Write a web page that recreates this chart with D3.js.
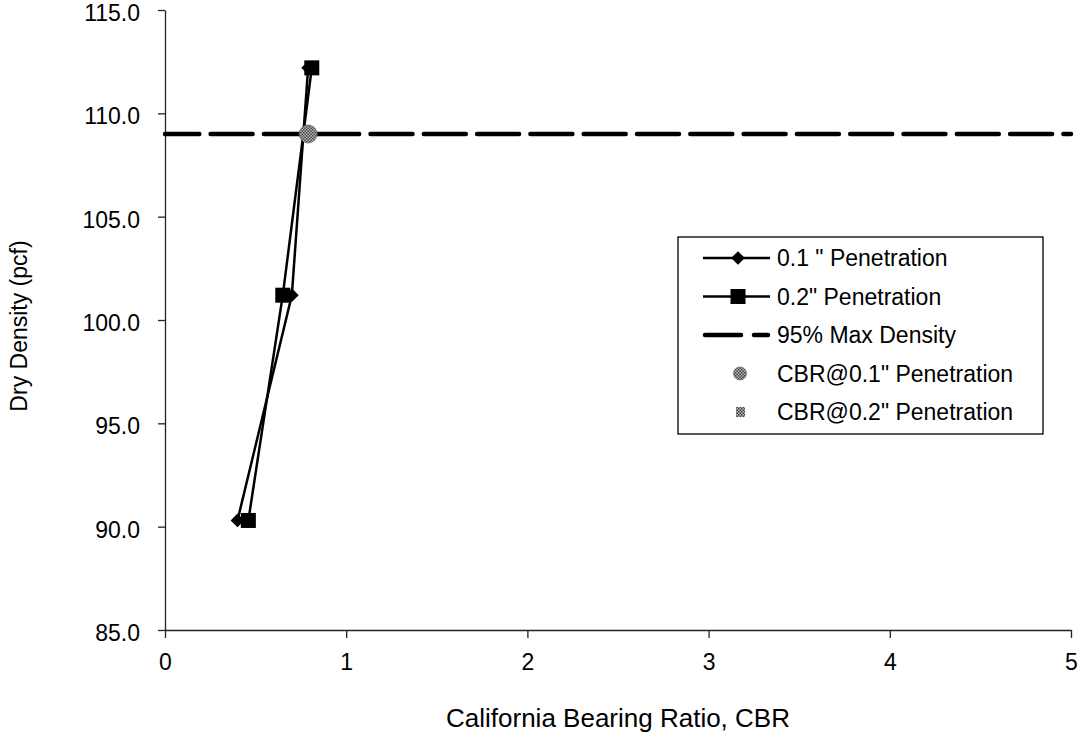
<!DOCTYPE html>
<html><head><meta charset="utf-8">
<script src="https://cdn.jsdelivr.net/npm/d3@7"></script>
<style>
body{margin:0;background:#fff}
svg{display:block}
text{font-family:Arial,"Liberation Sans",sans-serif;fill:#000}
</style>
</head><body>
<svg id="c" width="1082" height="740"></svg>
<script>
// ---- data ----
const cbr01 = [0.40, 0.70, 0.79];
const density01 = [90.3, 101.2, 112.2];
const cbr02 = [0.46, 0.65, 0.81];
const density02 = [90.3, 101.2, 112.2];
const maxDensity95 = 109.0;
const cbrAt01 = [0.79];
const densityAt01 = [109.0];
const cbrAt02 = [0.79];
const densityAt02 = [109.0];
const xTicks = [0, 1, 2, 3, 4, 5];
const yTicks = [85, 90, 95, 100, 105, 110, 115];
const legendLabels = ['0.1 " Penetration', '0.2" Penetration', '95% Max Density', 'CBR@0.1" Penetration', 'CBR@0.2" Penetration'];
const xTitle = 'California Bearing Ratio, CBR';
const yTitle = 'Dry Density (pcf)';

const svg = d3.select('#c');
const x = d3.scaleLinear().domain([0, 5]).range([165, 1071]);
const y = d3.scaleLinear().domain([85, 115]).range([630, 10]);

const defs = svg.append('defs');
const pat = defs.append('pattern').attr('id', 'dots').attr('width', 3).attr('height', 3).attr('patternUnits', 'userSpaceOnUse');
pat.append('rect').attr('width', 3).attr('height', 3).attr('fill', '#b5b5b5');
pat.append('rect').attr('width', 1.5).attr('height', 1.5).attr('fill', '#454545');
pat.append('rect').attr('x', 1.5).attr('y', 1.5).attr('width', 1.5).attr('height', 1.5).attr('fill', '#454545');

// axes
const yAxis = svg.append('g').attr('transform', `translate(${x(0)},0)`)
  .call(d3.axisLeft(y).tickValues(yTicks).tickSize(7).tickSizeOuter(0).tickPadding(18).tickFormat(d3.format('.1f')));
const xAxis = svg.append('g').attr('transform', `translate(0,${y(85)})`)
  .call(d3.axisBottom(x).tickValues(xTicks).tickSize(8).tickSizeOuter(0).tickPadding(16).tickFormat(d3.format('d')));
[yAxis, xAxis].forEach(a => {
  a.selectAll('path,line').attr('stroke', '#222').attr('stroke-width', 1.3);
  a.selectAll('text').attr('font-size', 23).attr('fill', '#000').style('font-family', 'Arial, "Liberation Sans", sans-serif');
});
yAxis.selectAll('text').attr('y', 3);

// titles
svg.append('text').attr('x', 618).attr('y', 727).attr('text-anchor', 'middle').attr('font-size', 26).text(xTitle);
svg.append('text').attr('transform', 'translate(27,326) rotate(-90)').attr('text-anchor', 'middle').attr('font-size', 23).text(yTitle);

// 95% line
svg.append('line').attr('x1', x(0)).attr('x2', x(5)).attr('y1', y(maxDensity95)).attr('y2', y(maxDensity95))
  .attr('stroke', '#000').attr('stroke-width', 4.5).attr('stroke-linecap', 'round')
  .attr('stroke-dasharray', '42 11.3').attr('stroke-dashoffset', 7.7);

// series
const line = d3.line().x(d => x(d[0])).y(d => y(d[1]));
const s01 = cbr01.map((c, i) => [c, density01[i]]);
const s02 = cbr02.map((c, i) => [c, density02[i]]);
[s01, s02].forEach(s => svg.append('path').attr('d', line(s)).attr('fill', 'none').attr('stroke', '#000').attr('stroke-width', 2.5));

const diamond = d3.symbol().type(d3.symbolDiamond2).size(120);
svg.selectAll('.dia').data(s01).join('path').attr('class', 'dia')
  .attr('transform', d => `translate(${x(d[0])},${y(d[1])})`).attr('d', diamond).attr('fill', '#000');
svg.selectAll('.sq').data(s02).join('rect').attr('class', 'sq')
  .attr('x', d => x(d[0]) - 7.5).attr('y', d => y(d[1]) - 7.5).attr('width', 15).attr('height', 15).attr('fill', '#000');

// CBR points
svg.selectAll('.c2').data(cbrAt02.map((c, i) => [c, densityAt02[i]])).join('rect').attr('class', 'c2')
  .attr('x', d => x(d[0]) - 4.5).attr('y', d => y(d[1]) - 4.5).attr('width', 9).attr('height', 9).attr('fill', 'url(#dots)');
svg.selectAll('.c1').data(cbrAt01.map((c, i) => [c, densityAt01[i]])).join('circle').attr('class', 'c1')
  .attr('cx', d => x(d[0])).attr('cy', d => y(d[1])).attr('r', 9).attr('fill', 'url(#dots)').attr('stroke', '#666').attr('stroke-width', 0.8);

// legend
const lg = svg.append('g');
lg.append('rect').attr('x', 678).attr('y', 237).attr('width', 365).attr('height', 197).attr('fill', '#fff').attr('stroke', '#000').attr('stroke-width', 1.3);
const ly = i => 258 + i * 38.5;
legendLabels.forEach((t, i) => {
  lg.append('text').attr('x', 777).attr('y', ly(i) + 8.3).attr('font-size', 23).text(t);
});
lg.append('line').attr('x1', 703).attr('x2', 770).attr('y1', ly(0)).attr('y2', ly(0)).attr('stroke', '#000').attr('stroke-width', 2.5);
lg.append('path').attr('transform', `translate(738,${ly(0)})`).attr('d', diamond).attr('fill', '#000');
lg.append('line').attr('x1', 703).attr('x2', 770).attr('y1', ly(1)).attr('y2', ly(1)).attr('stroke', '#000').attr('stroke-width', 2.5);
lg.append('rect').attr('x', 730.5).attr('y', ly(1) - 7.5).attr('width', 15).attr('height', 15).attr('fill', '#000');
lg.append('line').attr('x1', 705).attr('x2', 768).attr('y1', ly(2)).attr('y2', ly(2)).attr('stroke', '#000').attr('stroke-width', 4.5)
  .attr('stroke-linecap', 'round').attr('stroke-dasharray', '36 13');
lg.append('circle').attr('cx', 740).attr('cy', ly(3)).attr('r', 6.5).attr('fill', 'url(#dots)').attr('stroke', '#666').attr('stroke-width', 0.8);
lg.append('rect').attr('x', 736).attr('y', ly(4) - 5).attr('width', 9).attr('height', 10).attr('fill', 'url(#dots)');
</script>
</body></html>
